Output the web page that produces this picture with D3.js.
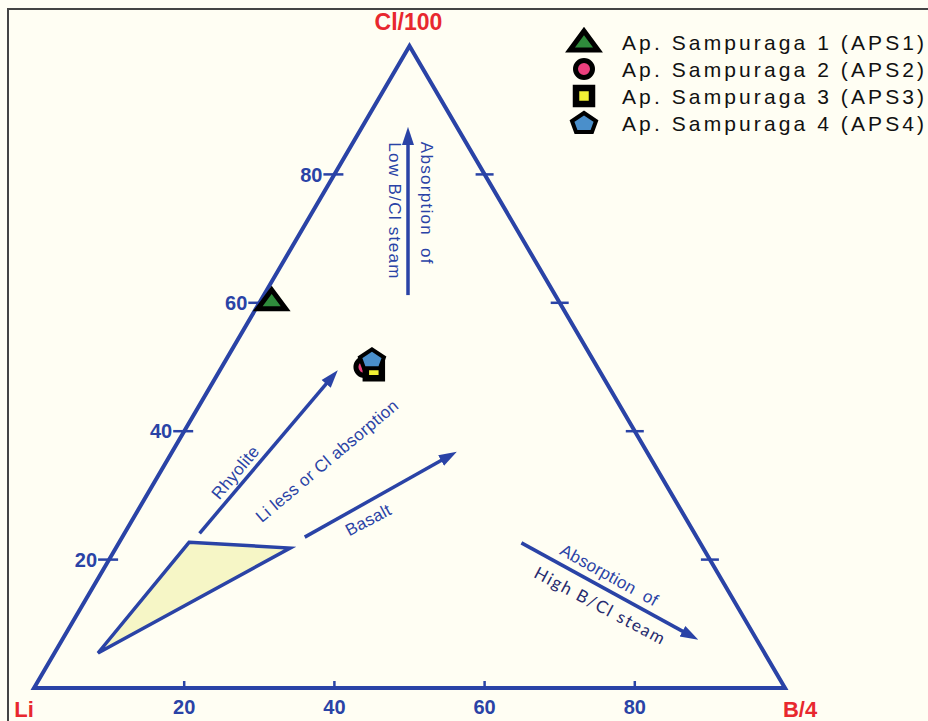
<!DOCTYPE html>
<html><head><meta charset="utf-8">
<script src="https://cdn.jsdelivr.net/npm/d3@7"></script>
<style>
html,body{margin:0;padding:0;background:#fffef4;}
svg{display:block;}
text{font-family:"Liberation Sans",Arial,sans-serif;}
</style></head><body>
<svg id="chart" width="928" height="721"></svg>
<script>
// Sample compositions, relative % of Li, Cl/100 and B/4 (sum = 100)
const samples = ["Ap. Sampuraga 1 (APS1)", "Ap. Sampuraga 2 (APS2)", "Ap. Sampuraga 3 (APS3)", "Ap. Sampuraga 4 (APS4)"];
const liPct = [38.2, 31.0, 30.0, 29.4];
const clPct = [60.3, 50.0, 49.5, 51.2];
const bPct  = [1.5, 19.0, 20.5, 19.4];
const markerShapes = ["triangle", "circle", "square", "pentagon"];
const markerFills  = ["#2f8c3c", "#ec3f7e", "#f1f034", "#4a8fcb"];

// Axis ticks
const tickValues = [20, 40, 60, 80];
const tickLabels = ["20", "40", "60", "80"];

// Field of magmatic fluids (shaded triangle): Cl and B/4 shares of its corners
const fieldCl = [22.7, 21.8, 5.45];
const fieldB  = [9.3, 23.2, 5.8];

// Process arrows: start/end as [Cl, B/4] shares
const arrowNames = ["rhyolite", "basalt", "lowBCl", "highBCl"];
const arrowFrom  = [[24.1, 10.0], [23.5, 24.3], [61.2, 19.2], [22.6, 53.6]];
const arrowTo    = [[49.5, 15.7], [36.8, 37.9], [87.4, 6.1], [7.5, 84.7]];

// Process labels: text, anchor [Cl, B/4], rotation
const noteTexts  = ["Rhyolite", "Li less or Cl absorption", "Basalt", "Absorption  of", "Low B/Cl steam", "Absorption  of", "High B/Cl steam"];
const noteAt     = [[33.6, 10.0], [35.4, 21.3], [26.2, 31.4], [75.5, 14.6], [74.3, 10.9], [17.6, 67.8], [12.8, 69.0]];
const noteAngle  = [-50, -40, -28, 90, 90, 29, 28];

const blue = "#2a43a6";
const red = "#e8282e";

const svg = d3.select("#chart");

// Ternary projection: B/4 runs along the base, Cl/100 up to the apex
const xs = d3.scaleLinear().domain([0, 100]).range([34, 785]);
const ys = d3.scaleLinear().domain([0, 100]).range([688, 46]);
const proj = (cl, b) => [xs(b + cl / 2), ys(cl)];

// Frame
svg.append("rect").attr("x", 0).attr("y", 0).attr("width", 928).attr("height", 721).attr("fill", "#fffef4");
svg.append("rect").attr("x", 8).attr("y", 9).attr("width", 1000).attr("height", 1000)
  .attr("fill", "#fffef3").attr("stroke", "#444").attr("stroke-width", 2);

// Arrowhead
svg.append("defs").append("marker")
  .attr("id", "head").attr("markerUnits", "userSpaceOnUse")
  .attr("viewBox", "0 -7 18 14").attr("refX", 4).attr("refY", 0)
  .attr("markerWidth", 18).attr("markerHeight", 14).attr("orient", "auto")
  .append("path").attr("d", "M0,-6L18,0L0,6Z").attr("fill", blue);

// Outer triangle
const corners = [proj(0, 0), proj(100, 0), proj(0, 100)];
svg.append("path").attr("d", d3.line()(corners) + "Z")
  .attr("fill", "none").attr("stroke", blue).attr("stroke-width", 4).attr("stroke-linejoin", "miter");

// Ticks on Li–Cl edge (with labels)
const gTick = svg.append("g").attr("stroke", blue).attr("stroke-width", 2.5);
tickValues.forEach((v, i) => {
  const [x, y] = proj(v, 0);
  gTick.append("line").attr("x1", x - 11).attr("x2", x + 9).attr("y1", y).attr("y2", y);
  svg.append("text").attr("x", x - 12).attr("y", y).attr("dy", "0.36em")
    .attr("text-anchor", "end").attr("font-weight", "bold").attr("font-size", 20)
    .attr("fill", blue).text(tickLabels[i]);
});
// Ticks on B–Cl edge
tickValues.forEach(v => {
  const [x, y] = proj(v, 100 - v);
  gTick.append("line").attr("x1", x - 9).attr("x2", x + 9).attr("y1", y).attr("y2", y);
});
// Ticks on base
tickValues.forEach((v, i) => {
  const [x, y] = proj(0, v);
  gTick.append("line").attr("x1", x).attr("x2", x).attr("y1", y - 7).attr("y2", y);
  svg.append("text").attr("x", x).attr("y", y + 19).attr("dy", "0.36em")
    .attr("text-anchor", "middle").attr("font-weight", "bold").attr("font-size", 20)
    .attr("fill", blue).text(tickLabels[i]);
});

// Vertex labels
const [ax, ay] = proj(100, 0);
svg.append("text").attr("x", ax - 1).attr("y", ay - 16).attr("text-anchor", "middle")
  .attr("font-weight", "bold").attr("font-size", 23).attr("fill", red).text("Cl/100");
const [lx, ly] = proj(0, 0);
svg.append("text").attr("x", lx - 10).attr("y", ly + 29).attr("text-anchor", "middle")
  .attr("font-weight", "bold").attr("font-size", 22).attr("fill", red).text("Li");
const [bx, by] = proj(0, 100);
svg.append("text").attr("x", bx + 15).attr("y", by + 29).attr("text-anchor", "middle")
  .attr("font-weight", "bold").attr("font-size", 22).attr("fill", red).text("B/4");

// Shaded field
svg.append("path")
  .attr("d", d3.line()(fieldCl.map((c, i) => proj(c, fieldB[i]))) + "Z")
  .attr("fill", "#f6f6c6").attr("stroke", blue).attr("stroke-width", 3.5).attr("stroke-linejoin", "miter");

// Arrows
arrowNames.forEach((n, i) => {
  const p0 = proj(...arrowFrom[i]), p1 = proj(...arrowTo[i]);
  const dx = p1[0] - p0[0], dy = p1[1] - p0[1], len = Math.hypot(dx, dy);
  const end = [p1[0] - dx / len * 14, p1[1] - dy / len * 14];
  svg.append("line").attr("class", n)
    .attr("x1", p0[0]).attr("y1", p0[1]).attr("x2", end[0]).attr("y2", end[1])
    .attr("stroke", blue).attr("stroke-width", 3.5).attr("marker-end", "url(#head)");
});

// Process labels
noteTexts.forEach((t, i) => {
  const [x, y] = proj(...noteAt[i]);
  const thin = t.startsWith("High");
  svg.append("text")
    .attr("transform", `translate(${x},${y}) rotate(${noteAngle[i]})`)
    .attr("text-anchor", "middle").attr("dy", "0.35em")
    .attr("font-size", 17)
    .style("font-family", thin ? "Lato, 'DejaVu Sans', sans-serif" : null)
    .attr("letter-spacing", thin ? 1.6 : (noteAngle[i] === 90 ? 1.3 : 0.3))
    .attr("fill", thin ? "#262a6e" : blue)
    .style("white-space", "pre")
    .text(t);
});

// Marker shapes
function shapePath(kind) {
  const p = d3.path();
  if (kind === "triangle") { p.moveTo(0, -11); p.lineTo(14, 8); p.lineTo(-14, 8); p.closePath(); }
  else if (kind === "circle") { p.arc(0, 0, 8.5, 0, 2 * Math.PI); }
  else if (kind === "square") { p.rect(-8, -8, 16, 16); }
  else {
    const pts = [[0, -10], [12, -2], [8, 9], [-8, 9], [-12, -2]];
    p.moveTo(...pts[0]); pts.slice(1).forEach(q => p.lineTo(...q)); p.closePath();
  }
  return p.toString();
}
const strokeW = {triangle: 5, circle: 5, square: 6.5, pentagon: 4};

function drawMarker(g, kind, fill, x, y) {
  g.append("path").attr("d", shapePath(kind)).attr("transform", `translate(${x},${y})`)
    .attr("fill", fill).attr("stroke", "#000").attr("stroke-width", strokeW[kind])
    .attr("stroke-linejoin", "miter");
}

// Sample points
const gPts = svg.append("g");
samples.forEach((s, i) => {
  const [x, y] = proj(clPct[i], bPct[i]);
  drawMarker(gPts, markerShapes[i], markerFills[i], x, y);
});

// Legend
const gLeg = svg.append("g");
samples.forEach((s, i) => {
  const y = 42 + i * 27;
  drawMarker(gLeg, markerShapes[i], markerFills[i], 584, y);
  gLeg.append("text").attr("x", 622).attr("y", y).attr("dy", "0.36em")
    .attr("font-size", 21).attr("letter-spacing", 3.1).attr("fill", "#111").text(s);
});
</script>
</body></html>
